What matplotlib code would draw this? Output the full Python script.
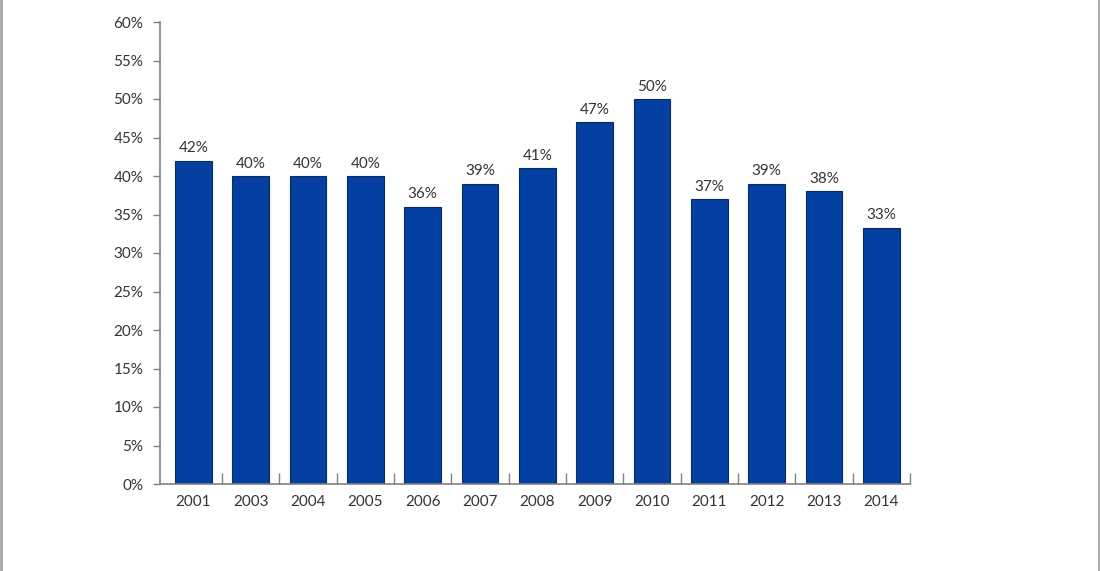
import numpy as np
import matplotlib.pyplot as plt
from matplotlib.lines import Line2D

years = ["2001", "2003", "2004", "2005", "2006", "2007", "2008",
         "2009", "2010", "2011", "2012", "2013", "2014"]
values = [42, 40, 40, 40, 36, 39, 41, 47, 50, 37, 39, 38, 33.3]
labels = ["42%", "40%", "40%", "40%", "36%", "39%", "41%",
          "47%", "50%", "37%", "39%", "38%", "33%"]
y_ticks = np.arange(0, 61, 5)

plt.rcParams['font.family'] = ['Lato', 'DejaVu Sans']
text_color = "#333333"
spine_color = "#808080"

fig = plt.figure(figsize=(11, 5.71), dpi=100)
ax = fig.add_axes([160/1100, 87/571, 750/1100, 462/571])

x = np.arange(len(years))
ax.bar(x, values, width=0.64, color="#0340a1", edgecolor="#0a2a66", linewidth=0.8)

for xi, v, lab in zip(x, values, labels):
    ax.text(xi, v + 0.7, lab, ha="center", va="bottom", fontsize=11, color=text_color)

ax.set_xlim(-0.58, 12.5)
ax.set_ylim(0, 60)
ax.set_yticks(y_ticks)
ax.set_yticklabels([f"{t}%" for t in y_ticks])
ax.set_xticks(x)
ax.set_xticklabels(years)
ax.set_xticks(np.arange(0.5, 12.6, 1), minor=True)

ax.tick_params(axis="x", which="major", length=0, pad=8, labelsize=11, colors=text_color)
ax.tick_params(axis="x", which="minor", direction="in", length=8, width=1, color=spine_color)
ax.tick_params(axis="y", direction="out", length=5, width=1, pad=7, labelsize=11,
               colors=text_color, color=spine_color)

for side in ["top", "right"]:
    ax.spines[side].set_visible(False)
for side in ["left", "bottom"]:
    ax.spines[side].set_color(spine_color)
    ax.spines[side].set_linewidth(1.2)

# grey page borders left and right
fig.add_artist(Line2D([1/1100, 1/1100], [0, 1], transform=fig.transFigure, color="#a8a8a8", linewidth=2))
fig.add_artist(Line2D([1098.5/1100, 1098.5/1100], [0, 1], transform=fig.transFigure, color="#a8a8a8", linewidth=2))

fig.savefig("out.png", dpi=100)
